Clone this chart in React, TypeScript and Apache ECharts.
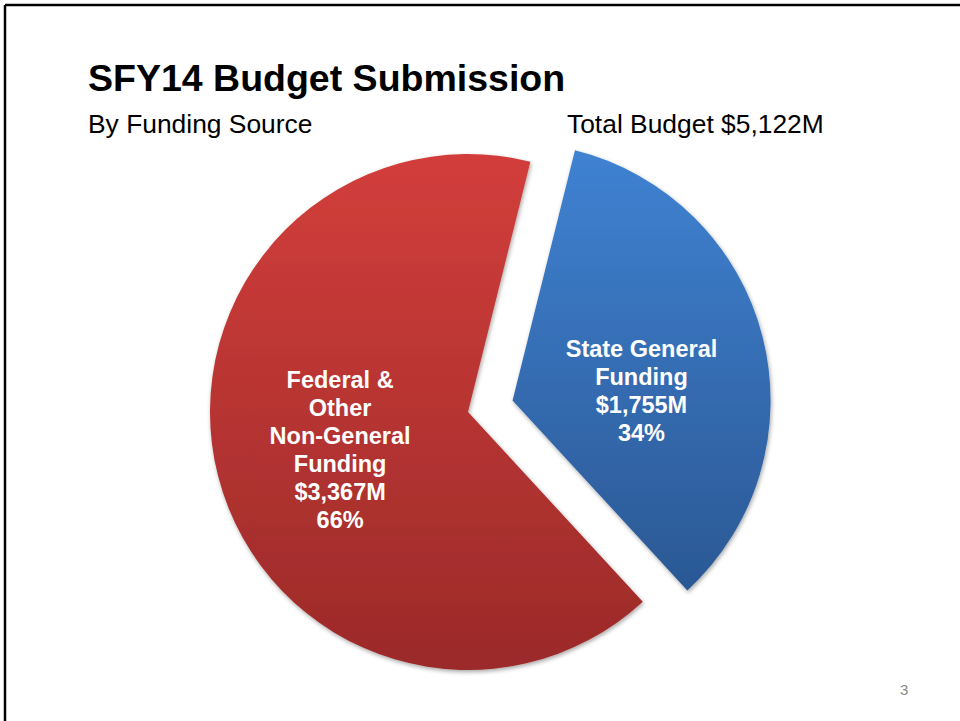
import React, { useEffect, useRef } from "react";
import * as echarts from "echarts";

const categories = ["State General\nFunding", "Federal &\nOther\nNon-General\nFunding"];
const amounts = [1755, 3367];
const totalLabel = "Total Budget $5,122M";
const titleText = "SFY14 Budget Submission";
const subtitleText = "By Funding Source";
const pageNumber = "3";

const FONT = "Arial, 'Liberation Sans', Helvetica, sans-serif";

export default function App() {
  const ref = useRef<HTMLDivElement>(null);
  useEffect(() => {
    if (!ref.current) return;
    const chart = echarts.init(ref.current, null, { renderer: "svg" });
    const total = amounts.reduce((a, b) => a + b, 0);
    const grad = (top: string, bottom: string) =>
      new echarts.graphic.LinearGradient(0, 0, 0, 1, [
        { offset: 0, color: top },
        { offset: 1, color: bottom },
      ]);
    const colors = [grad("#3f82d2", "#2b5894"), grad("#d23e3b", "#9b2a29")];
    chart.setOption({
      animation: false,
      backgroundColor: "#ffffff",
      graphic: [
        { type: "line", shape: { x1: 5, y1: 5, x2: 960, y2: 5 }, style: { stroke: "#000", lineWidth: 2.5 } },
        { type: "line", shape: { x1: 5, y1: 5, x2: 5, y2: 721 }, style: { stroke: "#000", lineWidth: 2.5 } },
        {
          type: "text", left: 88, top: 59,
          style: { text: titleText, font: `bold 37.5px ${FONT}`, fill: "#000" },
        },
        {
          type: "text", left: 88, top: 111,
          style: { text: subtitleText, font: `26.4px ${FONT}`, fill: "#000" },
        },
        {
          type: "text", left: 567, top: 111,
          style: { text: totalLabel, font: `26.4px ${FONT}`, fill: "#000" },
        },
        {
          type: "text", left: 900, top: 682,
          style: { text: pageNumber, font: `15px ${FONT}`, fill: "#8a8a8a" },
        },
      ],
      series: [
        {
          type: "pie",
          center: [468, 412],
          radius: [0, 258],
          startAngle: 76,
          clockwise: true,
          selectedMode: "single",
          selectedOffset: 46,
          emphasis: { disabled: true },
          itemStyle: {
            shadowBlur: 4,
            shadowColor: "rgba(0,0,0,0.35)",
            shadowOffsetX: 1,
            shadowOffsetY: 2,
          },
          label: {
            show: true,
            position: "inside",
            color: "#ffffff",
            fontFamily: FONT,
            fontWeight: "bold",
            fontSize: 23.5,
            lineHeight: 28,
            align: "center",
            formatter: (p: any) =>
              `${p.name}\n$${p.value.toLocaleString("en-US")}M\n${Math.round((p.value / total) * 100)}%`,
          },
          labelLayout: (p: any) => ({ dx: p.dataIndex === 0 ? 1 : 0, dy: p.dataIndex === 0 ? 23 : 5 }),
          data: amounts.map((v, i) => ({
            name: categories[i],
            value: v,
            selected: i === 0,
            itemStyle: { color: colors[i] },
          })),
        },
      ],
    });
    return () => chart.dispose();
  }, []);
  return (
    <div
      ref={ref}
      style={{ position: "fixed", left: 0, top: 0, width: 960, height: 721 }}
    />
  );
}
